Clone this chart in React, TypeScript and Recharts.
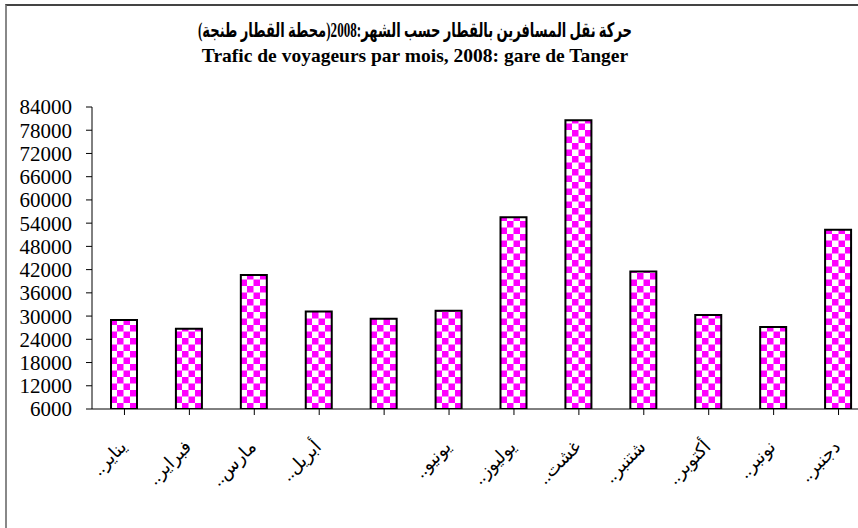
import { BarChart, Bar, XAxis, YAxis } from "recharts";

// Monthly passenger traffic, Tanger station, 2008
const months = ["يناير", "فبراير", "مارس", "أبريل", "ماي", "يونيو", "يوليوز", "غشت", "شتنبر", "أكتوبر", "نونبر", "دجنبر"];
// the May label is not shown in the source chart
const tickLabels = ["..يناير", "..فبراير", "..مارس", "..أبريل", "", "..يونيو", "..يوليوز", "..غشت", "..شتنبر", "..أكتوبر", "..نونبر", "..دجنبر"];
const travellers = [29000, 26700, 40600, 31200, 29300, 31400, 55500, 80600, 41500, 30300, 27200, 52300];
const yTicks = [6000, 12000, 18000, 24000, 30000, 36000, 42000, 48000, 54000, 60000, 66000, 72000, 78000, 84000];

const titleAr = "حركة نقل المسافرين بالقطار حسب الشهر:2008(محطة القطار طنجة)";
const titleFr = "Trafic de voyageurs par mois, 2008: gare de Tanger";

const data = months.map((m, i) => ({ month: m, label: tickLabels[i], value: travellers[i] }));

const serif = '"Liberation Serif", "DejaVu Sans", serif';

function MonthTick(props: any) {
  const { x, y, index } = props;
  const text = tickLabels[index];
  if (!text) return null;
  const ax = x + 3;
  const ay = y + 31;
  return (
    <text
      x={ax}
      y={ay}
      transform={`rotate(-45, ${ax}, ${ay})`}
      textAnchor="end"
      fontSize={18}
      fontFamily={serif}
      fill="#000"
    >
      {text}
    </text>
  );
}

export default function App() {
  return (
    <div style={{ position: "fixed", left: 0, top: 0, width: 858, height: 528, overflow: "hidden", background: "#fff" }}>
      <svg width={0} height={0} style={{ position: "absolute" }}>
        <defs>
          <pattern id="checker" patternUnits="userSpaceOnUse" width={13} height={13}>
            <rect x={0} y={0} width={13} height={13} fill="#fff" />
            <rect x={0} y={0} width={6.5} height={6.5} fill="#ff00ff" />
            <rect x={6.5} y={6.5} width={6.5} height={6.5} fill="#ff00ff" />
          </pattern>
        </defs>
      </svg>
      <div style={{ position: "absolute", left: 5, top: 4, width: 900, height: 600, borderTop: "2px solid #444", borderLeft: "2px solid #888" }} />
      <svg width={858} height={80} style={{ position: "absolute", left: 0, top: 0 }}>
        <text
          x={415}
          y={37}
          textAnchor="middle"
          direction="rtl"
          fontSize={20}
          fontWeight="bold"
          fontFamily={serif}
          fill="#000"
          textLength={434}
          lengthAdjust="spacingAndGlyphs"
        >
          {titleAr}
        </text>
        <text x={415} y={62} textAnchor="middle" fontSize={19.5} fontWeight="bold" fontFamily={serif} fill="#000">
          {titleFr}
        </text>
      </svg>
      <div style={{ position: "absolute", left: 0, top: 0 }}>
        <BarChart width={880} height={528} data={data} margin={{ top: 107, right: 9, bottom: 0, left: 8 }}>
          <XAxis
            dataKey="month"
            interval={0}
            tick={<MonthTick />}
            tickLine={{ stroke: "#000" }}
            axisLine={{ stroke: "#000" }}
            tickSize={6}
            height={119}
          />
          <YAxis
            domain={[6000, 84000]}
            ticks={yTicks}
            interval={0}
            width={84}
            tickSize={6}
            tickMargin={14}
            tickLine={{ stroke: "#000" }}
            axisLine={{ stroke: "#000" }}
            tick={{ fontSize: 21, fontFamily: serif, fill: "#000" }}
            allowDataOverflow
          />
          <Bar dataKey="value" barSize={26} fill="url(#checker)" stroke="#000" strokeWidth={2} isAnimationActive={false} />
        </BarChart>
      </div>
    </div>
  );
}
